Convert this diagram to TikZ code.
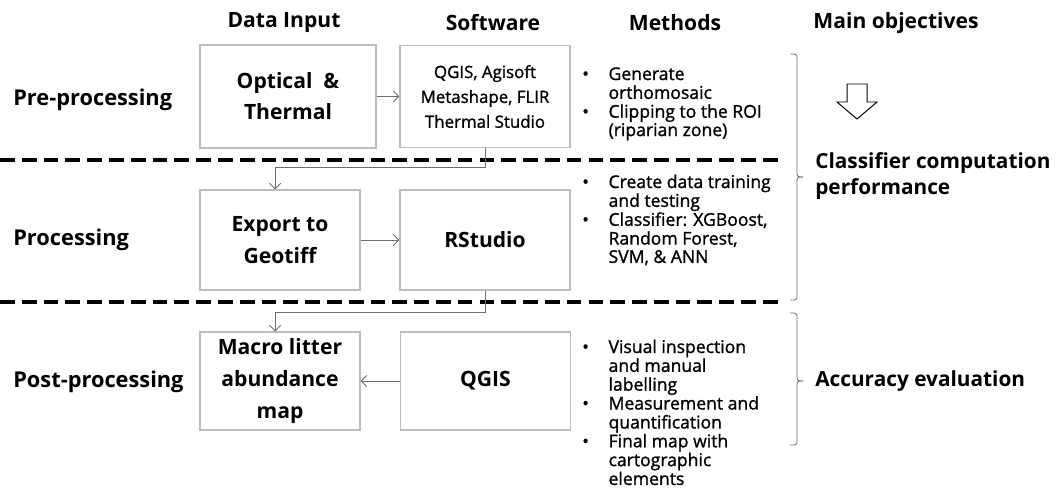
\documentclass[tikz,border=0pt]{standalone}
\usepackage{fontspec}
\setmainfont{Open Sans}
\newfontfamily\medfont{Open Sans}[FakeBold=1.2]
\usetikzlibrary{arrows.meta, positioning}
\usepackage{xcolor}
\definecolor{boxgray}{HTML}{BDBDBD}
\definecolor{linegray}{HTML}{6E6E6E}

\begin{document}
\begin{tikzpicture}[
    x=0.025cm, y=-0.025cm,
    box/.style={draw=boxgray, line width=0.8pt, rectangle, align=center, inner sep=2pt},
    widebox/.style={box, minimum width=4.4cm, minimum height=2.575cm},
    softbox/.style={box, minimum width=4.25cm, minimum height=2.55cm},
    smallbox/.style={box, minimum width=4cm, minimum height=2.5cm},
    boxtext/.style={font=\fontsize{15}{23}\selectfont\bfseries},
    head/.style={font=\fontsize{15}{18}\selectfont\bfseries},
    rowlabel/.style={anchor=west, inner sep=0pt, font=\fontsize{15.5}{18}\selectfont\bfseries},
    goal/.style={anchor=west, inner sep=0pt, align=left, font=\fontsize{14.8}{19}\selectfont\bfseries},
    methods/.style={anchor=base west, inner sep=0pt, font=\fontsize{12.5}{13}\selectfont\medfont},
    arrow/.style={-{Straight Barb[length=4pt, width=8pt]}, draw=linegray, line width=0.6pt},
    sep/.style={line width=2.3pt, dash pattern=on 10.5pt off 5pt}
]
\useasboundingbox (0,0) rectangle (1056,494);

% Column headers
\node[head] (hdata) at (284,23) {Data Input};
\node[head] (hsoft) at (493,23) {Software};
\node[head] (hmeth) at (675,23) {Methods};
\node[head] (hgoal) at (896,23) {Main objectives};

% Row labels
\node[rowlabel] (lpre) at (13,100) {Pre-processing};
\node[rowlabel] (lproc) at (13,240) {Processing};
\node[rowlabel] (lpost) at (13,382) {Post-processing};

% Pre-processing
\node[widebox, boxtext, font=\fontsize{15}{22}\selectfont\bfseries] (optical) at (288,96.5) {Optical \ \&\\Thermal};
\node[softbox, font=\fontsize{12}{17.7}\selectfont\medfont] (agisoft) at (485,96.5) {QGIS, Agisoft\\Metashape, FLIR\\Thermal Studio};
\node[methods] (mpre) at (582,80) {\begin{tabular}[t]{@{}l@{\hspace{14pt}}l@{}}
\textbullet & Generate\\ & orthomosaic\\
\textbullet & Clipping to the ROI\\ & (riparian zone)
\end{tabular}};

% Processing
\node[smallbox, boxtext] (export) at (280,240) {Export to\\Geotiff};
\node[softbox, boxtext, minimum height=2.5cm] (rstudio) at (485,240) {RStudio};
\node[methods] (mproc) at (582,188) {\begin{tabular}[t]{@{}l@{\hspace{14pt}}l@{}}
\textbullet & Create data training\\ & and testing\\
\textbullet & Classifier: XGBoost,\\ & Random Forest,\\ & SVM, \& ANN
\end{tabular}};

% Post-processing
\node[smallbox, boxtext, minimum height=2.45cm] (macro) at (280,381) {Macro litter\\abundance\\map};
\node[softbox, boxtext, minimum height=2.45cm] (qgis) at (485.5,381) {QGIS};
\node[methods] (mpost) at (582,353) {\begin{tabular}[t]{@{}l@{\hspace{14pt}}l@{}}
\textbullet & Visual inspection\\ & and manual\\ & labelling\\
\textbullet & Measurement and\\ & quantification\\
\textbullet & Final map with\\ & cartographic\\ & elements
\end{tabular}};

% Dashed separators
\draw[sep] (0,160) -- (780,160);
\draw[sep] (0,302) -- (780,302);

% Connectors
\draw[arrow] (optical) -- (agisoft);
\draw[arrow] (agisoft.south) -- ++(0,19) -| ([xshift=-3.5pt]export.north);
\draw[arrow] (export) -- (rstudio);
\draw[arrow] (rstudio.south) -- ++(0,22) -| ([xshift=-3.5pt]macro.north);
\draw[arrow] (qgis) -- (macro);

% Braces and objectives
\draw[linegray, line width=0.6pt, rounded corners=2pt] (790,54) -- (797,54) -- (797,177) -- (803,177);
\draw[linegray, line width=0.6pt, rounded corners=2pt] (803,177) -- (797,177) -- (797,300) -- (790,300);
\draw[linegray, line width=0.6pt, rounded corners=2pt] (790,313) -- (797,313) -- (797,381) -- (803,381);
\draw[linegray, line width=0.6pt, rounded corners=2pt] (803,381) -- (797,381) -- (797,445) -- (790,445);
\draw[line width=0.7pt] (847,84) -- (867,84) -- (867,102) -- (877,102) -- (857,119) -- (837,102) -- (847,102) -- cycle;
\node[goal] (gclass) at (815,176) {Classifier computation\\performance};
\node[goal] (gacc) at (815,381) {Accuracy evaluation};

\end{tikzpicture}
\end{document}
